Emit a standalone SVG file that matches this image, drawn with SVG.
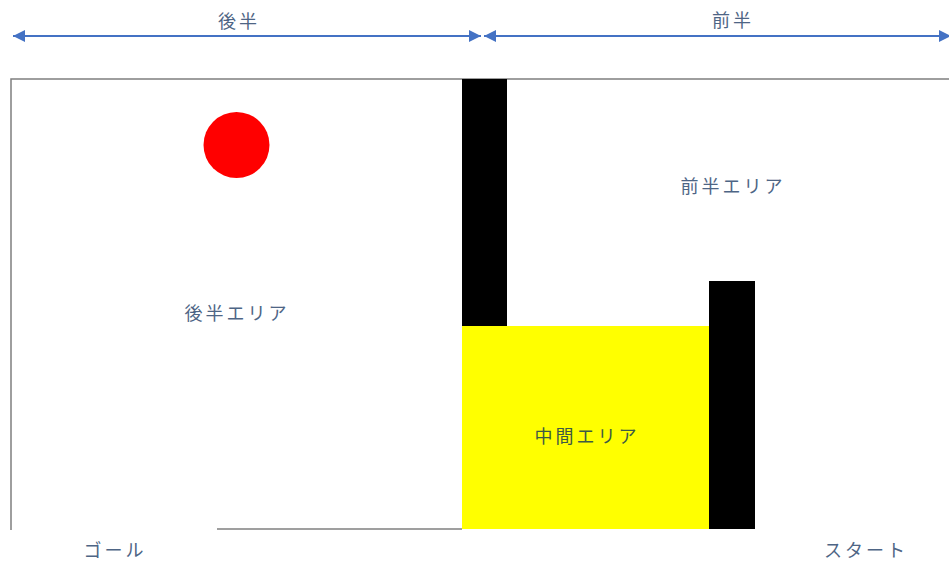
<svg xmlns="http://www.w3.org/2000/svg" width="949" height="564" viewBox="0 0 949 564">
<defs>
<style>
.t{font-family:"Noto Sans CJK JP","Noto Sans",sans-serif;font-size:18px;letter-spacing:3px;fill:#4e6585;text-anchor:middle}
.dim{stroke:#4472C4;stroke-width:2;fill:none}
.frame{stroke:#7f7f7f;stroke-width:1.5;fill:none}
</style>
<marker id="ah" viewBox="0 0 10 10" refX="10" refY="5" markerWidth="6" markerHeight="6" orient="auto-start-reverse" markerUnits="strokeWidth">
<path d="M0,0 L10,5 L0,10 z" fill="#4472C4"/>
</marker>
</defs>
<rect width="949" height="564" fill="#ffffff"/>
<g id="connectors">
<line class="dim" x1="13" y1="36" x2="481" y2="36" marker-start="url(#ah)" marker-end="url(#ah)"/>
<line class="dim" x1="484" y1="36" x2="951" y2="36" marker-start="url(#ah)" marker-end="url(#ah)"/>
</g>
<g id="frame">
<polyline class="frame" points="949,79 11,79 11,530"/>
<line class="frame" x1="217" y1="529" x2="462" y2="529" stroke="#555"/>
</g>
<g id="yellow-area"><rect x="462" y="326" width="247" height="203" fill="#ffff00"/></g>
<g id="wall1"><rect x="462" y="79" width="45" height="247" fill="#000"/></g>
<g id="wall2"><rect x="709" y="281" width="46" height="248" fill="#000"/></g>
<g id="ball"><circle cx="236.5" cy="145" r="33" fill="#ff0000"/></g>
<g id="labels">
<text class="t" x="239" y="28">後半</text>
<text class="t" x="733" y="27">前半</text>
<text class="t" x="237" y="320">後半エリア</text>
<text class="t" x="733" y="193">前半エリア</text>
<text class="t" x="587" y="443" style="fill:#3d5a45">中間エリア</text>
<text class="t" x="115" y="557">ゴール</text>
<text class="t" x="866" y="557">スタート</text>
</g>
</svg>
